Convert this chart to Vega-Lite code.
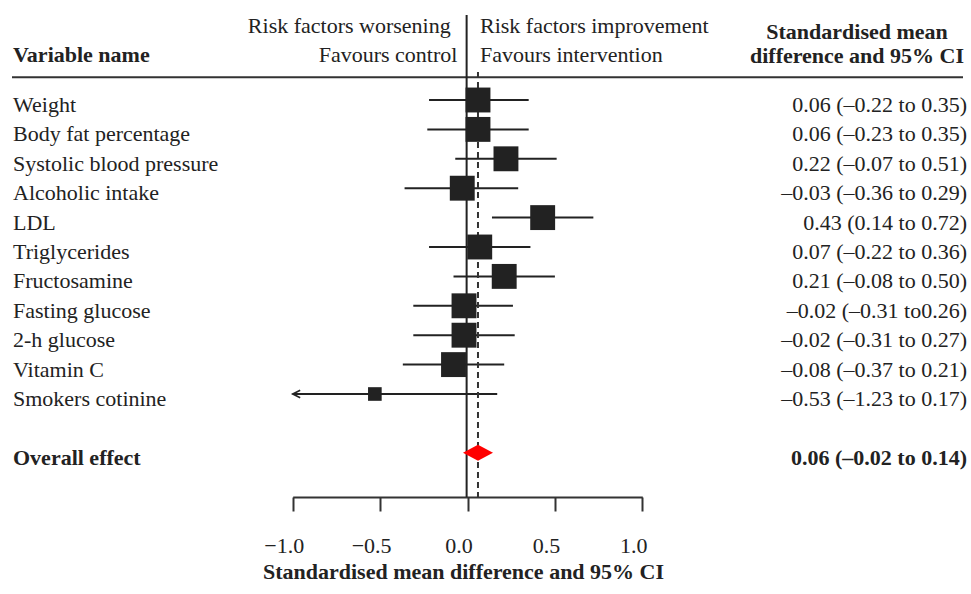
{
  "$schema": "https://vega.github.io/schema/vega-lite/v6.json",
  "width": 971,
  "height": 497,
  "autosize": {"type": "none"},
  "padding": {"left": 0, "top": 0, "right": 0, "bottom": 97},
  "background": "white",
  "config": {"view": {"stroke": null}, "font": "Liberation Serif"},
  "datasets": {
    "studies": [
      {"variable": "Weight", "row": 0, "est": 0.06, "lo": -0.22, "hi": 0.35, "weight": 1, "ci": "0.06 (–0.22 to 0.35)", "type": "study"},
      {"variable": "Body fat percentage", "row": 1, "est": 0.06, "lo": -0.23, "hi": 0.35, "weight": 1, "ci": "0.06 (–0.23 to 0.35)", "type": "study"},
      {"variable": "Systolic blood pressure", "row": 2, "est": 0.22, "lo": -0.07, "hi": 0.51, "weight": 1, "ci": "0.22 (–0.07 to 0.51)", "type": "study"},
      {"variable": "Alcoholic intake", "row": 3, "est": -0.03, "lo": -0.36, "hi": 0.29, "weight": 1, "ci": "–0.03 (–0.36 to 0.29)", "type": "study"},
      {"variable": "LDL", "row": 4, "est": 0.43, "lo": 0.14, "hi": 0.72, "weight": 1, "ci": "0.43 (0.14  to 0.72)", "type": "study"},
      {"variable": "Triglycerides", "row": 5, "est": 0.07, "lo": -0.22, "hi": 0.36, "weight": 1, "ci": "0.07 (–0.22 to 0.36)", "type": "study"},
      {"variable": "Fructosamine", "row": 6, "est": 0.21, "lo": -0.08, "hi": 0.50, "weight": 1, "ci": "0.21 (–0.08 to 0.50)", "type": "study"},
      {"variable": "Fasting glucose", "row": 7, "est": -0.02, "lo": -0.31, "hi": 0.26, "weight": 1, "ci": "–0.02 (–0.31 to0.26)", "type": "study"},
      {"variable": "2-h glucose", "row": 8, "est": -0.02, "lo": -0.31, "hi": 0.27, "weight": 1, "ci": "–0.02 (–0.31 to 0.27)", "type": "study"},
      {"variable": "Vitamin C", "row": 9, "est": -0.08, "lo": -0.37, "hi": 0.21, "weight": 1, "ci": "–0.08 (–0.37 to 0.21)", "type": "study"},
      {"variable": "Smokers cotinine", "row": 10, "est": -0.53, "lo": -1.23, "hi": 0.17, "weight": 0.3, "ci": "–0.53 (–1.23 to 0.17)", "type": "study"},
      {"variable": "Overall effect", "row": 12, "est": 0.06, "lo": -0.02, "hi": 0.14, "weight": null, "ci": "0.06 (–0.02 to 0.14)", "type": "overall"}
    ]
  },
  "data": {"name": "studies"},
  "layer": [
    {
      "transform": [{"filter": "datum.type === 'study'"}],
      "mark": {"type": "rule", "color": "#222", "strokeWidth": 2},
      "encoding": {
        "x": {
          "field": "lo", "type": "quantitative",
          "scale": {"domain": [-1, 1], "range": [292.7, 642.3], "clamp": true, "nice": false, "zero": false},
          "axis": {
            "values": [-1, -0.5, 0, 0.5, 1], "format": ".1f",
            "title": "Standardised  mean difference and 95% CI",
            "grid": false, "domainColor": "#333", "domainWidth": 2,
            "tickColor": "#333", "tickWidth": 2, "tickSize": 14,
            "labelFont": "Liberation Serif", "labelFontSize": 22, "labelColor": "#222",
            "labelPadding": 24, "labelOffset": -9, "labelFlush": false, "labelOverlap": false,
            "titleFont": "Liberation Serif", "titleFontSize": 22, "titleFontWeight": "bold", "titleColor": "#222",
            "titleX": 463, "titleY": 81, "titleBaseline": "alphabetic", "titleAlign": "center"
          }
        },
        "x2": {"field": "hi"},
        "y": {"field": "row", "type": "quantitative", "scale": {"domain": [0, 12], "range": [100, 452.8], "nice": false, "zero": false}, "axis": null}
      }
    },
    {
      "data": {"values": [{}]},
      "mark": {"type": "rule", "color": "#333", "strokeWidth": 2},
      "encoding": {"x": {"value": 12}, "x2": {"value": 963}, "y": {"datum": -0.772}}
    },
    {
      "data": {"values": [{}]},
      "mark": {"type": "rule", "color": "#222", "strokeWidth": 2},
      "encoding": {"x": {"datum": -0.005}, "y": {"datum": -2.891}, "y2": {"datum": 13.503}}
    },
    {
      "transform": [{"filter": "datum.type === 'overall'"}],
      "mark": {"type": "rule", "color": "#333", "strokeWidth": 2, "strokeDash": [6, 4]},
      "encoding": {"x": {"field": "est", "type": "quantitative"}, "y": {"datum": -0.952}, "y2": {"datum": 13.503}}
    },
    {
      "transform": [{"filter": "datum.lo < -1"}],
      "mark": {"type": "point", "shape": "M2,-1L0,0L2,1", "filled": false, "stroke": "#222", "strokeWidth": 1.6, "size": 56, "opacity": 1},
      "encoding": {"x": {"field": "lo", "type": "quantitative"}, "y": {"field": "row", "type": "quantitative"}}
    },
    {
      "transform": [{"filter": "datum.type === 'study'"}],
      "mark": {"type": "point", "shape": "square", "filled": true, "color": "#222", "opacity": 1},
      "encoding": {
        "x": {"field": "est", "type": "quantitative"},
        "y": {"field": "row", "type": "quantitative"},
        "size": {"field": "weight", "type": "quantitative", "scale": {"domain": [0, 1], "range": [0, 620], "zero": true}, "legend": null}
      }
    },
    {
      "transform": [{"filter": "datum.type === 'overall'"}],
      "mark": {"type": "point", "shape": "M-1,0L0,-0.53L1,0L0,0.53Z", "filled": true, "color": "#ff0000", "size": 900, "opacity": 1},
      "encoding": {"x": {"field": "est", "type": "quantitative"}, "y": {"field": "row", "type": "quantitative"}}
    },
    {
      "transform": [{"filter": "datum.type === 'study'"}],
      "mark": {"type": "text", "align": "left", "baseline": "alphabetic", "dy": 12, "fontSize": 22, "color": "#222", "font": "Liberation Serif"},
      "encoding": {"x": {"value": 13}, "y": {"field": "row", "type": "quantitative"}, "text": {"field": "variable"}}
    },
    {
      "transform": [{"filter": "datum.type === 'overall'"}],
      "mark": {"type": "text", "align": "left", "baseline": "alphabetic", "dy": 12, "fontSize": 22, "fontWeight": "bold", "color": "#222", "font": "Liberation Serif"},
      "encoding": {"x": {"value": 13}, "y": {"field": "row", "type": "quantitative"}, "text": {"field": "variable"}}
    },
    {
      "transform": [{"filter": "datum.type === 'study'"}],
      "mark": {"type": "text", "align": "right", "baseline": "alphabetic", "dy": 12, "fontSize": 22, "color": "#222", "font": "Liberation Serif"},
      "encoding": {"x": {"value": 967}, "y": {"field": "row", "type": "quantitative"}, "text": {"field": "ci"}}
    },
    {
      "transform": [{"filter": "datum.type === 'overall'"}],
      "mark": {"type": "text", "align": "right", "baseline": "alphabetic", "dy": 12, "fontSize": 22, "fontWeight": "bold", "color": "#222", "font": "Liberation Serif"},
      "encoding": {"x": {"value": 967}, "y": {"field": "row", "type": "quantitative"}, "text": {"field": "ci"}}
    },
    {
      "data": {"values": [{}]},
      "mark": {"type": "text", "text": "Variable name", "align": "left", "baseline": "alphabetic", "fontSize": 22, "fontWeight": "bold", "color": "#222", "font": "Liberation Serif"},
      "encoding": {"x": {"value": 13}, "y": {"datum": -1.303}}
    },
    {
      "data": {"values": [{}]},
      "mark": {"type": "text", "text": "Risk factors worsening", "align": "right", "baseline": "alphabetic", "fontSize": 22, "color": "#222", "font": "Liberation Serif"},
      "encoding": {"x": {"datum": -0.096}, "y": {"datum": -2.269}}
    },
    {
      "data": {"values": [{}]},
      "mark": {"type": "text", "text": "Favours control", "align": "right", "baseline": "alphabetic", "fontSize": 22, "color": "#222", "font": "Liberation Serif"},
      "encoding": {"x": {"datum": -0.058}, "y": {"datum": -1.303}}
    },
    {
      "data": {"values": [{}]},
      "mark": {"type": "text", "text": "Risk factors improvement", "align": "left", "baseline": "alphabetic", "fontSize": 22, "color": "#222", "font": "Liberation Serif"},
      "encoding": {"x": {"datum": 0.0715}, "y": {"datum": -2.269}}
    },
    {
      "data": {"values": [{}]},
      "mark": {"type": "text", "text": "Favours intervention", "align": "left", "baseline": "alphabetic", "fontSize": 22, "color": "#222", "font": "Liberation Serif"},
      "encoding": {"x": {"datum": 0.0715}, "y": {"datum": -1.303}}
    },
    {
      "data": {"values": [{}]},
      "mark": {"type": "text", "text": "Standardised mean", "align": "center", "baseline": "alphabetic", "fontSize": 22, "fontWeight": "bold", "color": "#222", "font": "Liberation Serif"},
      "encoding": {"x": {"value": 857}, "y": {"datum": -2.065}}
    },
    {
      "data": {"values": [{}]},
      "mark": {"type": "text", "text": "difference and 95% CI", "align": "center", "baseline": "alphabetic", "fontSize": 22, "fontWeight": "bold", "color": "#222", "font": "Liberation Serif"},
      "encoding": {"x": {"value": 857}, "y": {"datum": -1.248}}
    }
  ]
}
